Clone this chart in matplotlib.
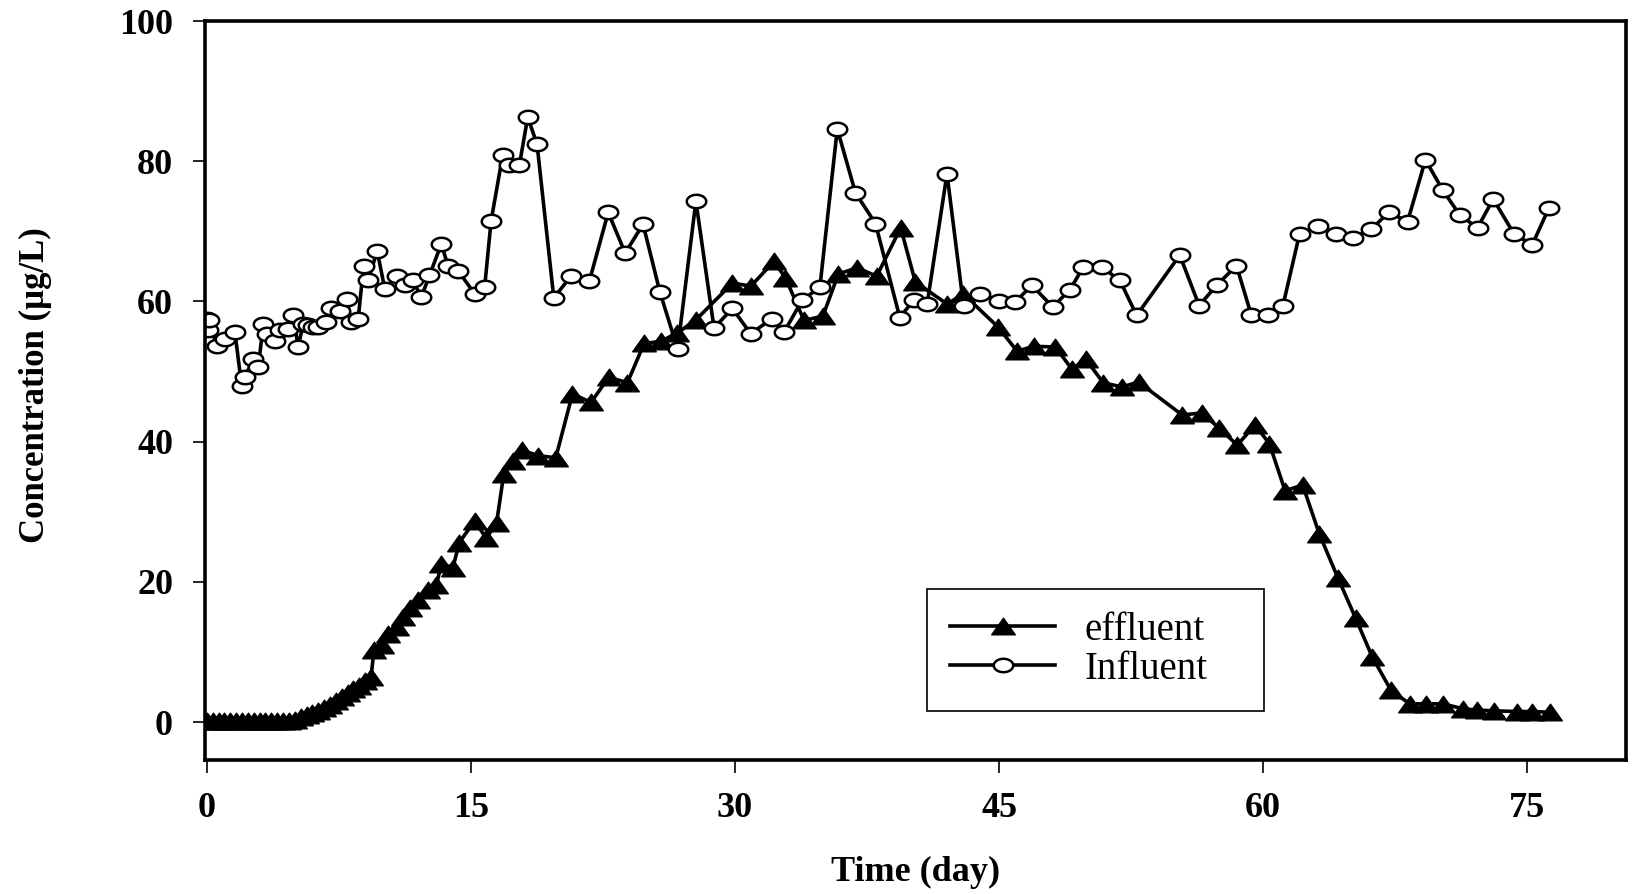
import numpy as np
import matplotlib.pyplot as plt
from matplotlib.path import Path

plt.rcParams['font.family'] = ['Liberation Serif', 'DejaVu Serif']

# effluent (triangles)
eff_day = [0.0, 0.33, 0.67, 1.0, 1.33, 1.67, 2.0, 2.33, 2.67, 3.0, 3.33, 3.67, 4.0, 4.33, 4.67, 5.0,
           5.33, 5.67, 6.0, 6.33, 6.67, 7.0, 7.33, 7.67, 8.0, 8.33, 8.67, 9.0, 9.33,
           9.5, 9.97, 10.32, 10.8, 11.15, 11.56, 11.98, 12.57, 13.04, 13.33, 13.98, 14.34,
           15.22, 15.87, 16.46, 16.87, 17.4, 17.88, 18.82, 19.82, 20.77, 21.83, 22.83, 23.89,
           24.84, 25.78, 26.73, 27.79, 29.85, 30.91, 32.21, 32.86, 33.92, 34.99, 35.87, 36.93,
           38.05, 39.41, 40.24, 42.06, 42.95, 44.96, 46.02, 46.96, 48.2, 49.14, 49.91, 50.91,
           51.98, 52.92, 55.4, 56.52, 57.46, 58.53, 59.53, 60.35, 61.24, 62.24, 63.19, 64.25,
           65.25, 66.19, 67.26, 68.32, 69.26, 70.21, 71.33, 72.15, 73.1, 74.4, 75.28, 76.28]
eff_conc = [0.2, 0.2, 0.2, 0.2, 0.2, 0.2, 0.2, 0.2, 0.2, 0.2, 0.2, 0.2, 0.2, 0.2, 0.2, 0.3,
            0.7, 1.0, 1.3, 1.6, 2.0, 2.5, 3.0, 3.6, 4.1, 4.7, 5.2, 5.8, 6.4,
            10.3, 11.0, 12.5, 13.5, 15.0, 16.2, 17.4, 18.9, 19.5, 22.6, 22.0, 25.6,
            28.7, 26.2, 28.4, 35.4, 37.3, 38.8, 38.0, 37.7, 46.8, 45.6, 49.2, 48.4,
            54.0, 54.3, 55.5, 57.4, 62.6, 62.2, 65.7, 63.4, 57.3, 57.9, 63.9, 64.8,
            63.6, 70.5, 62.8, 59.6, 61.1, 56.3, 52.9, 53.6, 53.5, 50.3, 51.8, 48.4,
            47.8, 48.5, 43.8, 44.1, 42.0, 39.5, 42.4, 39.7, 33.0, 33.8, 26.8, 20.5,
            14.8, 9.3, 4.5, 2.6, 2.6, 2.6, 1.9, 1.7, 1.6, 1.5, 1.5, 1.4]

# influent (open circles)
inf_day = [0.0, 0.05, 0.1, 0.57, 1.04, 1.6, 1.98, 2.17, 2.64, 2.93, 3.21, 3.4, 3.87, 4.15,
           4.63, 4.91, 5.19, 5.48, 5.76, 6.05, 6.33, 6.8, 7.08, 7.55, 7.94, 8.22, 8.6, 8.91,
           9.16, 9.68, 10.11, 10.8, 11.24, 11.71, 12.18, 12.65, 13.32, 13.7, 14.27, 15.21,
           15.78, 16.15, 16.81, 17.19, 17.76, 18.23, 18.76, 19.71, 20.68, 21.73, 22.8, 23.76,
           24.78, 25.73, 26.74, 27.78, 28.81, 29.85, 30.89, 32.08, 32.78, 33.82, 34.82, 35.81,
           36.84, 37.98, 39.36, 40.15, 40.91, 42.04, 42.98, 43.93, 45.01, 45.91, 46.86, 48.05,
           49.03, 49.78, 50.83, 51.86, 52.81, 55.26, 56.36, 57.35, 58.48, 59.33, 60.27, 61.12,
           62.06, 63.1, 64.15, 65.09, 66.13, 67.13, 68.2, 69.21, 70.19, 71.17, 72.17, 73.06,
           74.25, 75.28, 76.22]
inf_conc = [57.5, 55.9, 57.3, 53.7, 54.7, 55.6, 48.0, 49.2, 51.8, 50.6, 56.8, 55.4, 54.4, 55.9,
            56.1, 58.0, 53.5, 56.8, 56.6, 56.3, 56.3, 57.0, 59.0, 58.7, 60.4, 57.0, 57.5, 65.1,
            63.0, 67.2, 61.8, 63.6, 62.3, 63.0, 60.6, 63.7, 68.2, 65.1, 64.4, 61.1,
            62.0, 71.5, 80.9, 79.4, 79.5, 86.3, 82.4, 60.5, 63.6, 62.9, 72.7, 66.9,
            71.0, 61.4, 53.2, 74.3, 56.2, 59.0, 55.4, 57.5, 55.6, 60.2, 62.0, 84.6,
            75.5, 71.1, 57.7, 60.2, 59.6, 78.2, 59.4, 61.1, 60.1, 59.9, 62.3, 59.2,
            61.7, 64.9, 64.9, 63.0, 58.0, 66.6, 59.4, 62.3, 65.1, 58.0, 58.0, 59.4,
            69.6, 70.7, 69.6, 69.1, 70.3, 72.7, 71.4, 80.2, 75.9, 72.3, 70.5, 74.6,
            69.6, 68.1, 73.3]

xticks = [0, 15, 30, 45, 60, 75]
yticks = [0, 20, 40, 60, 80, 100]

# the original figure is stretched sideways, so are its markers
t = np.linspace(0, 2 * np.pi, 61)
ellipse = Path(np.column_stack([1.45 * np.cos(t), np.sin(t)]), closed=True)
tri = Path([(-0.71, -0.5), (0.71, -0.5), (0.0, 0.5), (-0.71, -0.5)], closed=True)

fig = plt.figure(figsize=(16.32, 8.94), dpi=100)
ax = fig.add_axes([0.1256, 0.150, 0.8707, 0.8265])

ax.plot(eff_day, eff_conc, color='black', lw=2.6, marker=tri, markersize=17,
        markerfacecolor='black', markeredgecolor='black', markeredgewidth=1, label='effluent')
ax.plot(inf_day, inf_conc, color='black', lw=2.6, marker=ellipse, markersize=14,
        markerfacecolor='white', markeredgecolor='black', markeredgewidth=1.8, label='Influent')

ax.set_xlim(-0.1, 80.6)
ax.set_ylim(-5.4, 100)
ax.set_xticks(xticks)
ax.set_yticks(yticks)
ax.tick_params(direction='out', length=9, width=1.2, labelsize=26, pad=14)
for lab in ax.get_xticklabels() + ax.get_yticklabels():
    lab.set_fontweight('bold')

for s in ax.spines.values():
    s.set_linewidth(2.6)

ax.set_xlabel('Time (day)', fontsize=26, fontweight='bold', va='center')
ax.xaxis.set_label_coords(0.5, -0.152)
ax.set_ylabel('Concentration (µg/L)', fontsize=25, fontweight='bold', va='center', ha='center')
ax.yaxis.set_label_coords(-0.119, 0.507)

# legend box stretched to the width of the original one
leg = ax.legend(loc='lower left', bbox_to_anchor=(0.508, 0.066, 0.2373, 0.1), mode='expand',
                borderaxespad=0, fancybox=False, edgecolor='black', framealpha=1, numpoints=1,
                handlelength=2.7, handletextpad=0.75, borderpad=0.6, labelspacing=0.05,
                prop={'size': 28, 'weight': 'normal'})
leg.get_frame().set_linewidth(1.2)

fig.savefig('out.png', dpi=100)
